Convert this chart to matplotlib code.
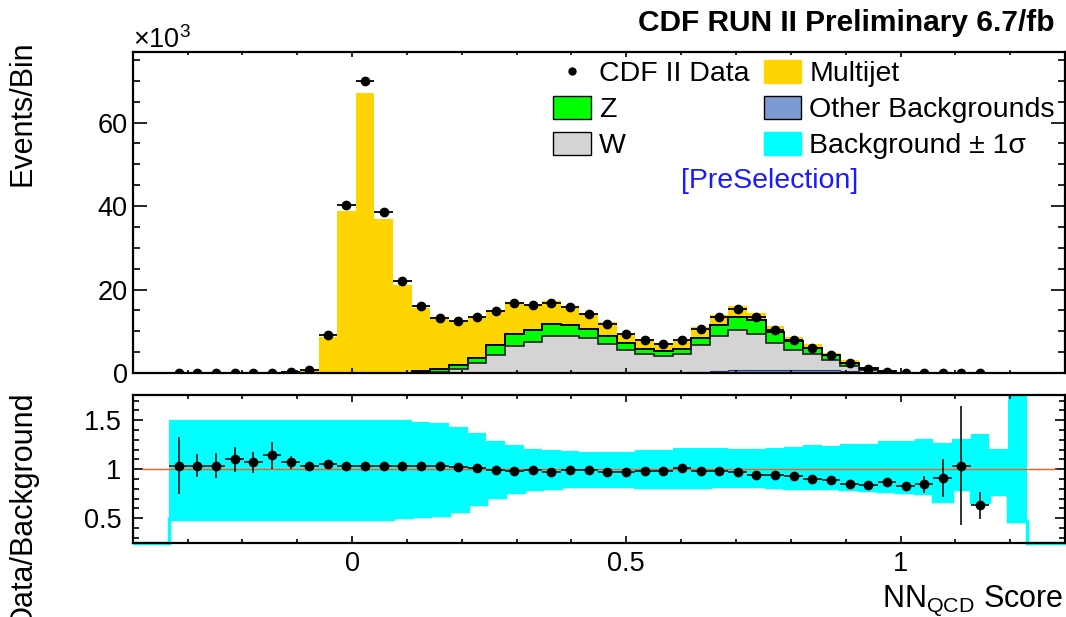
import numpy as np
import matplotlib.pyplot as plt
from matplotlib.patches import Patch
from matplotlib.lines import Line2D
from matplotlib.ticker import MultipleLocator, FuncFormatter

plt.rcParams["font.family"] = ["Liberation Sans", "DejaVu Sans"]
plt.rcParams["mathtext.fontset"] = "custom"
plt.rcParams["mathtext.rm"] = "Liberation Sans"
plt.rcParams["mathtext.it"] = "Liberation Sans:italic"
plt.rcParams["mathtext.bf"] = "Liberation Sans:bold"

nan = np.nan

# binning of the NN_QCD score
bin_lo, bin_hi, n_bins = -0.333, 1.230, 46

# events per bin (x10^3)
data_evt = [0.01, 0.015, 0.02, 0.03, 0.05, 0.08, 0.15, 0.7, 9.0, 40.3,
            70.0, 38.5, 22.1, 16.1, 13.2, 12.5, 13.4, 14.9, 16.8, 16.3,
            16.7, 15.9, 14.1, 11.7, 9.3, 7.8, 6.9, 7.9, 10.5, 13.4,
            15.3, 13.4, 10.3, 7.9, 6.05, 4.3, 2.45, 1.0, 0.25, 0.06,
            0.03, 0.015, 0.006, 0.003, nan, nan]
multijet = [0.01, 0.014, 0.019, 0.027, 0.047, 0.07, 0.14, 0.6, 8.7, 38.8,
            67.1, 36.8, 20.9, 15.2, 12.3, 10.7, 9.9, 8.4, 7.5, 6.3,
            5.4, 4.4, 3.6, 3.2, 2.3, 2.3, 2.0, 2.2, 2.4, 2.35,
            2.65, 1.6, 1.4, 1.0, 0.75, 0.5, 0.6, 0.1, 0.1, 0.05,
            0.03, 0.015, 0.008, 0.005, 0.003, 0.001]
z_bkg = [0, 0, 0, 0, 0, 0, 0, 0, 0, 0,
         0, 0.05, 0.08, 0.35, 0.6, 0.85, 1.2, 2.2, 2.9, 2.8,
         3.0, 2.8, 2.2, 1.9, 1.8, 1.2, 1.1, 1.2, 1.7, 2.7,
         2.9, 3.4, 2.6, 2.2, 1.6, 1.4, 0.7, 0.45, 0.15, 0.05,
         0.01, 0, 0, 0, 0, 0]
w_bkg = [0, 0, 0, 0, 0, 0, 0, 0, 0, 0,
         0, 0.01, 0.03, 0.1, 0.3, 0.95, 2.5, 4.4, 6.5, 7.5,
         8.8, 8.8, 8.4, 7.0, 5.5, 4.6, 4.1, 4.6, 6.6, 8.4,
         9.7, 8.7, 6.5, 4.7, 3.8, 2.4, 1.3, 0.6, 0.2, 0.05,
         0.01, 0, 0, 0, 0, 0]
other_bkg = [0, 0, 0, 0, 0, 0, 0, 0, 0, 0,
             0, 0, 0, 0, 0, 0, 0, 0, 0, 0,
             0, 0, 0, 0, 0, 0, 0, 0, 0.2, 0.5,
             0.7, 0.7, 0.7, 0.7, 0.7, 0.6, 0.4, 0.2, 0.05, 0,
             0, 0, 0, 0, 0, 0]

# data / background
ratio = [1.037, 1.037, 1.037, 1.10, 1.07, 1.14, 1.07, 1.037, 1.05, 1.037,
         1.037, 1.037, 1.037, 1.037, 1.037, 1.027, 1.008, 0.99, 0.983, 0.993,
         0.968, 0.993, 0.99, 0.97, 0.97, 0.98, 0.98, 1.01, 0.98, 0.98,
         0.97, 0.936, 0.936, 0.926, 0.90, 0.89, 0.85, 0.835, 0.87, 0.825,
         0.845, 0.91, 1.037, 0.63, nan, nan]
ratio_err = [0.29, 0.12, 0.125, 0.13, 0.105, 0.135, 0.065, 0.02, 0.005, 0.003,
             0.002, 0.003, 0.004, 0.005, 0.005, 0.005, 0.005, 0.005, 0.005, 0.005,
             0.005, 0.005, 0.005, 0.006, 0.006, 0.007, 0.007, 0.007, 0.006, 0.005,
             0.005, 0.005, 0.006, 0.007, 0.008, 0.01, 0.012, 0.02, 0.03, 0.03,
             0.09, 0.19, 0.61, 0.135, nan, nan]
band_hi = [1.505, 1.505, 1.505, 1.505, 1.505, 1.505, 1.505, 1.505, 1.505, 1.505,
           1.505, 1.50, 1.50, 1.485, 1.47, 1.43, 1.37, 1.29, 1.245, 1.21,
           1.195, 1.19, 1.18, 1.18, 1.18, 1.20, 1.20, 1.215, 1.215, 1.215,
           1.21, 1.21, 1.22, 1.23, 1.245, 1.235, 1.255, 1.255, 1.285, 1.285,
           1.313, 1.27, 1.306, 1.364, 1.21, 2.5]
band_lo = [0.495, 0.495, 0.495, 0.495, 0.495, 0.495, 0.495, 0.495, 0.495, 0.495,
           0.495, 0.495, 0.51, 0.52, 0.535, 0.57, 0.645, 0.715, 0.765, 0.795,
           0.81, 0.83, 0.83, 0.83, 0.83, 0.82, 0.815, 0.815, 0.815, 0.825,
           0.825, 0.825, 0.82, 0.81, 0.81, 0.81, 0.80, 0.79, 0.78, 0.765,
           0.757, 0.68, 0.80, 0.67, 0.75, 0.47]

edges = np.linspace(bin_lo, bin_hi, n_bins + 1)
centers = 0.5 * (edges[1:] + edges[:-1])
half = 0.5 * (edges[1] - edges[0])

c_other = np.array(other_bkg)
c_w = c_other + np.array(w_bkg)
c_z = c_w + np.array(z_bkg)
c_tot = c_z + np.array(multijet)

col_mj = "#ffd500"
col_z = "#00ff00"
col_w = "#d4d4d4"
col_other = "#7b9bd2"
col_band = "#00ffff"

xlim = (-0.4, 1.3)
rlim = (0.25, 1.76)

fig = plt.figure(figsize=(10.66, 6.17), dpi=100)
ax1 = fig.add_axes([0.1245, 0.3955, 0.8746, 0.5207])
ax2 = fig.add_axes([0.1245, 0.1204, 0.8746, 0.2399])

# stacked backgrounds
ax1.stairs(c_tot, edges, baseline=c_z, fill=True, color=col_mj, lw=0)
ax1.stairs(c_z, edges, baseline=c_w, fill=True, color=col_z, lw=0)
ax1.stairs(c_w, edges, baseline=c_other, fill=True, color=col_w, lw=0)
ax1.stairs(c_other, edges, baseline=0, fill=True, color=col_other, lw=0)
ax1.stairs(c_z, edges, baseline=None, color="k", lw=1.4)
ax1.stairs(c_w, edges, baseline=None, color="#222222", lw=1.2)
ax1.stairs(c_other, edges, baseline=None, color="#2a3a6a", lw=0.8)

ax1.errorbar(centers, data_evt, xerr=half, fmt="o", color="k", ms=6,
             elinewidth=1.3, capsize=0, zorder=5)

ax1.set_xlim(*xlim)
ax1.set_ylim(0, 77)
ax1.yaxis.set_major_locator(MultipleLocator(20))
ax1.yaxis.set_minor_locator(MultipleLocator(5))
ax1.xaxis.set_major_locator(MultipleLocator(0.5))
ax1.xaxis.set_minor_locator(MultipleLocator(0.1))
ax1.tick_params(axis="x", which="both", labelbottom=False)
ax1.tick_params(which="both", direction="in", top=True, right=True,
                labelsize=19.5, width=1.2)
ax1.tick_params(axis="y", which="major", length=10, pad=3.5)
ax1.tick_params(axis="y", which="minor", length=5)
ax1.tick_params(axis="x", which="major", length=3.5)
ax1.tick_params(axis="x", which="minor", length=2)

# ratio panel
ax2.stairs(band_hi, edges, baseline=band_lo, fill=True, color=col_band, lw=0)
ax2.stairs(np.r_[rlim[0], band_lo, rlim[0]], np.r_[xlim[0], edges, xlim[1]],
           baseline=None, color=col_band, lw=2.5, clip_on=False)
ax2.axhline(1.0, xmin=0.01, xmax=0.99, color="#ff5a1a", lw=1.0, zorder=3)
ax2.errorbar(centers, ratio, xerr=half, yerr=ratio_err, fmt="o", color="k",
             ecolor="#222222", ms=6, elinewidth=1.3, capsize=0, zorder=5)

ax2.set_xlim(*xlim)
ax2.set_ylim(*rlim)
ax2.yaxis.set_major_locator(MultipleLocator(0.5))
ax2.yaxis.set_minor_locator(MultipleLocator(0.1))
ax2.xaxis.set_major_locator(MultipleLocator(0.5))
ax2.xaxis.set_minor_locator(MultipleLocator(0.1))
fmt = FuncFormatter(lambda v, p: "{:g}".format(round(v, 2)))
ax2.xaxis.set_major_formatter(fmt)
ax2.yaxis.set_major_formatter(fmt)
ax2.tick_params(which="both", direction="in", top=True, right=True,
                labelsize=19.5, width=1.2)
ax2.tick_params(axis="y", which="major", length=7, pad=8)
ax2.tick_params(axis="y", which="minor", length=4)
ax2.tick_params(axis="x", which="major", length=5, pad=6)
ax2.tick_params(axis="x", which="minor", length=3)

for ax in (ax1, ax2):
    for s in ax.spines.values():
        s.set_linewidth(1.6)
        s.set_zorder(6)

# legend
handles = [
    Line2D([], [], marker="o", color="k", ls="none", ms=5),
    Patch(fc=col_z, ec="k", lw=1),
    Patch(fc=col_w, ec="k", lw=1),
    Patch(fc=col_mj, ec=col_mj, lw=1),
    Patch(fc=col_other, ec="k", lw=1),
    Patch(fc=col_band, ec=col_band, lw=1),
]
labels = ["CDF II Data", "Z", "W", "Multijet", "Other Backgrounds",
          "Background ± 1σ"]
fig.legend(handles, labels, ncol=2, loc="upper left",
           bbox_to_anchor=(553 / 1066, 1 - 60 / 617), frameon=False,
           fontsize=20.5, borderpad=0, borderaxespad=0, handlelength=1.33,
           handleheight=0.88, handletextpad=0.28, columnspacing=0.5,
           labelspacing=0.3)

fig.text(770 / 1066, 1 - 181 / 617, "[PreSelection]", color="#1a1aff",
         fontsize=20.5, ha="center", va="center")
fig.text(1054 / 1066, 1 - 23 / 617, "CDF RUN II Preliminary 6.7/fb",
         fontsize=21.5, fontweight="bold", ha="right", va="center")
fig.text(133 / 1066, 1 - 48 / 617, r"$\times10^{3}$", fontsize=19.5,
         ha="left", va="baseline")
fig.text(23 / 1066, 1 - 40 / 617, "Events/Bin", fontsize=22, rotation=90,
         ha="center", va="top")
fig.text(23 / 1066, 1 - 390 / 617, "Data/Background", fontsize=22,
         rotation=90, ha="center", va="top")
fig.text(1063 / 1066, 1 - 607 / 617, r"NN$_{\mathrm{QCD}}$ Score",
         fontsize=22, ha="right", va="baseline")

fig.savefig("out.png", dpi=100)
